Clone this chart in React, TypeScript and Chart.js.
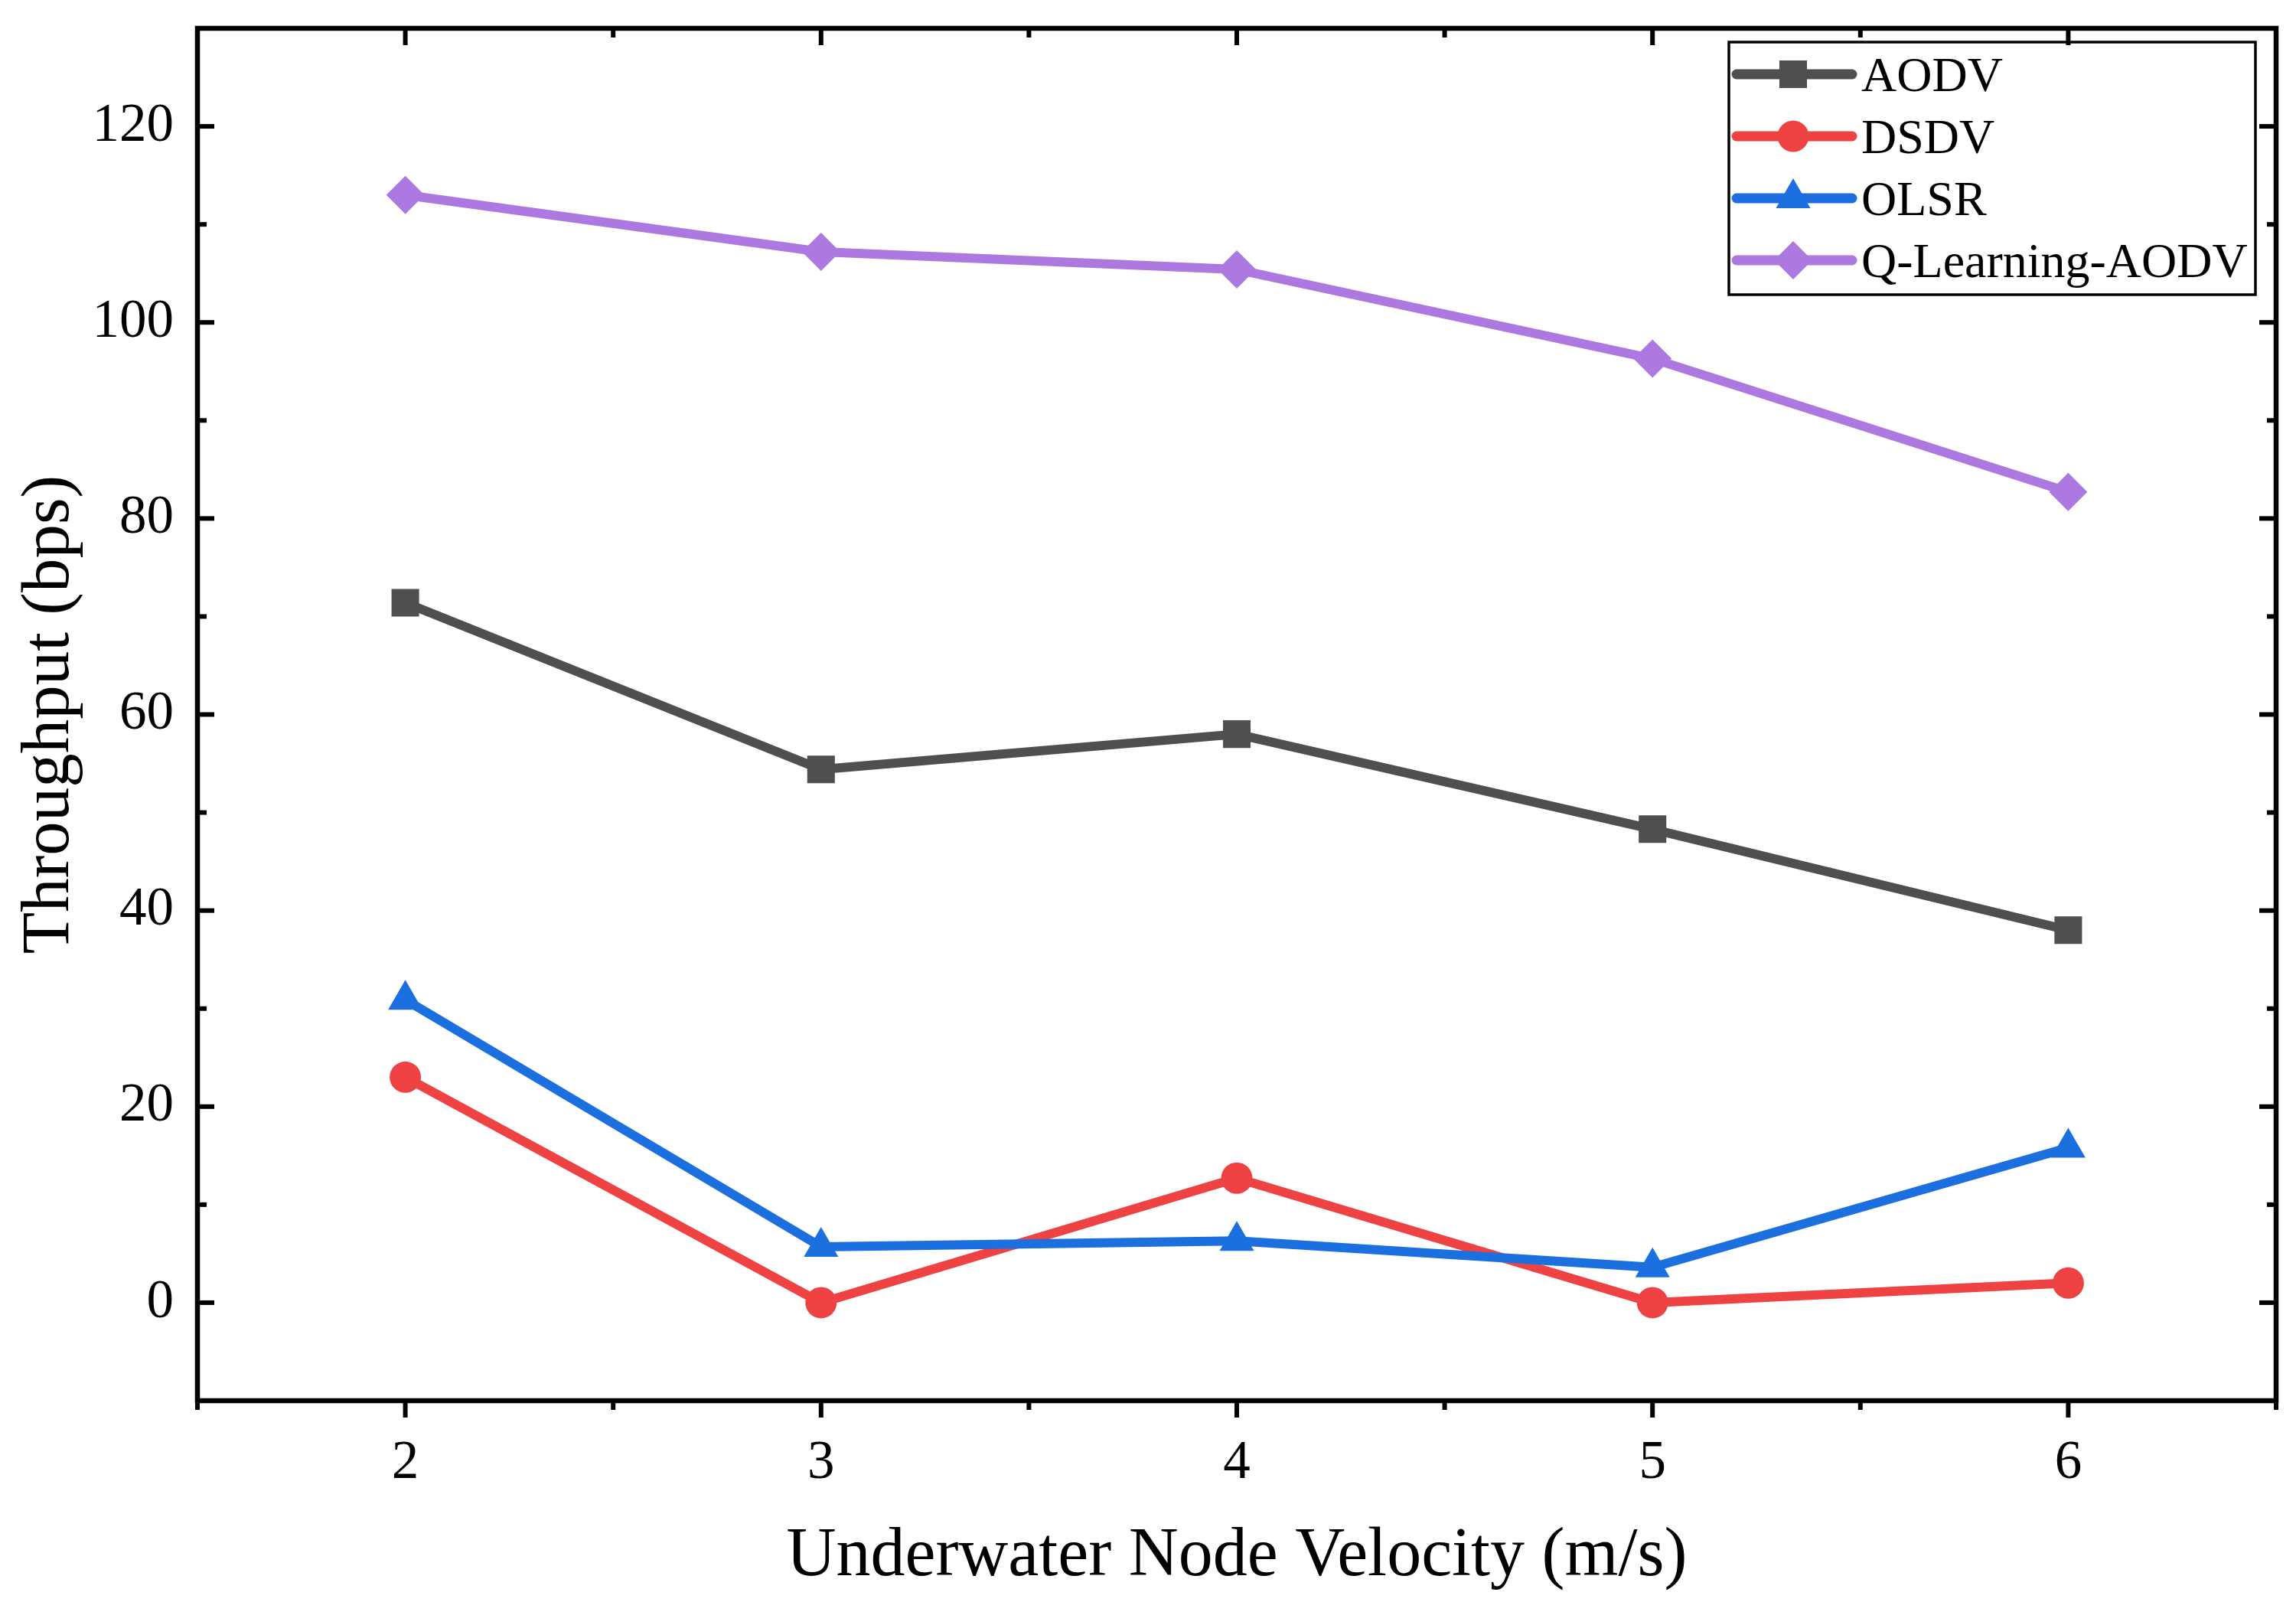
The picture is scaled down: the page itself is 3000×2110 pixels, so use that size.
import React, { useEffect, useRef } from 'react';
import { Chart, registerables } from 'chart.js';
import { drawPoint } from 'chart.js/helpers';

Chart.register(...registerables);

// velocities (m/s) on the x axis
const velocities = [2, 3, 4, 5, 6];

// throughput (bps) per protocol
const aodv = [71.4, 54.4, 58.0, 48.3, 38.0];
const dsdv = [23.0, 0.0, 12.7, 0.0, 2.0];
const olsr = [30.9, 5.7, 6.3, 3.6, 15.8];
const qLearningAodv = [113.0, 107.2, 105.4, 96.3, 82.7];

const seriesNames = ['AODV', 'DSDV', 'OLSR', 'Q-Learning-AODV'];

const xTicks = [2, 3, 4, 5, 6];
const xMinorTicks = [1.5, 2.5, 3.5, 4.5, 5.5, 6.5];
const yTicks = [0, 20, 40, 60, 80, 100, 120];
const yMinorTicks = [-10, 10, 30, 50, 70, 90, 110, 130];

const FONT = '"Liberation Serif", "Times New Roman", serif';

const styles = [
  { color: '#4f4f4f', pointStyle: 'rect', radius: 25.5 },
  { color: '#ef4242', pointStyle: 'circle', radius: 20.5 },
  { color: '#1c6fdf', pointStyle: 'triangle', radius: 26 },
  { color: '#ad78df', pointStyle: 'rectRot', radius: 25 },
];

const legendPlugin = {
  id: 'boxLegend',
  afterDraw(chart: any) {
    const { ctx, chartArea: a } = chart;
    const right = a.right - 27;
    const top = a.top + 18;
    const left = right - 688;
    const bottom = top + 330;
    ctx.save();
    ctx.strokeStyle = '#000';
    ctx.lineWidth = 3.5;
    ctx.strokeRect(left, top, right - left, bottom - top);
    chart.data.datasets.forEach((ds: any, i: number) => {
      const cy = top + 42 + i * 81;
      ctx.strokeStyle = ds.borderColor;
      ctx.lineWidth = 13;
      ctx.lineCap = 'round';
      ctx.beginPath();
      ctx.moveTo(left + 10, cy);
      ctx.lineTo(left + 161, cy);
      ctx.stroke();
      ctx.fillStyle = ds.pointBackgroundColor;
      drawPoint(ctx, { pointStyle: ds.pointStyle, radius: ds.pointRadius, rotation: 0, borderWidth: 0 }, left + 84, cy);
      ctx.fillStyle = '#000';
      ctx.font = `64px ${FONT}`;
      ctx.textAlign = 'left';
      ctx.textBaseline = 'alphabetic';
      ctx.fillText(ds.label, left + 173, cy + 22);
    });
    ctx.restore();
  },
};

const framePlugin = {
  id: 'frame',
  afterDraw(chart: any) {
    const { ctx, chartArea: a, scales } = chart;
    const xs = scales.x;
    const ys = scales.y;
    ctx.save();
    ctx.strokeStyle = '#000';
    ctx.lineWidth = 6.5;
    ctx.lineJoin = 'miter';
    ctx.strokeRect(a.left, a.top, a.right - a.left, a.bottom - a.top);
    ctx.lineWidth = 6;
    ctx.lineCap = 'butt';
    const seg = (x1: number, y1: number, x2: number, y2: number) => {
      ctx.beginPath();
      ctx.moveTo(x1, y1);
      ctx.lineTo(x2, y2);
      ctx.stroke();
    };
    const xMarks = (vals: number[], len: number) => {
      vals.forEach((v) => {
        const px = xs.getPixelForValue(v);
        seg(px, a.bottom, px, a.bottom + len);
        seg(px, a.top, px, a.top + len);
      });
    };
    const yMarks = (vals: number[], len: number) => {
      vals.forEach((v) => {
        const py = ys.getPixelForValue(v);
        seg(a.left, py, a.left + len, py);
        seg(a.right, py, a.right - len, py);
      });
    };
    xMarks(xTicks, 22);
    xMarks(xMinorTicks, 12);
    yMarks(yTicks, 22);
    yMarks(yMinorTicks, 12);
    ctx.restore();
  },
};

const App: React.FC = () => {
  const chartRef = useRef<HTMLCanvasElement>(null);
  const chartInstance = useRef<Chart | null>(null);

  useEffect(() => {
    document.body.style.margin = '0';
    document.body.style.overflow = 'hidden';
    if (!chartRef.current) return;
    if (chartInstance.current) chartInstance.current.destroy();

    const allSeries = [aodv, dsdv, olsr, qLearningAodv];

    chartInstance.current = new Chart(chartRef.current, {
      type: 'line',
      data: {
        datasets: allSeries.map((values, i) => ({
          label: seriesNames[i],
          data: values.map((v, j) => ({ x: velocities[j], y: v })),
          borderColor: styles[i].color,
          backgroundColor: styles[i].color,
          borderWidth: 12,
          borderJoinStyle: 'round',
          borderCapStyle: 'round',
          pointStyle: styles[i].pointStyle,
          pointRadius: styles[i].radius,
          pointBackgroundColor: styles[i].color,
          pointBorderWidth: 0,
          tension: 0,
          order: 4 - i,
        })) as any,
      },
      plugins: [legendPlugin, framePlugin],
      options: {
        responsive: false,
        animation: false,
        devicePixelRatio: 1,
        layout: { padding: { top: 37, right: 26, left: 0, bottom: 0 } },
        plugins: {
          legend: { display: false },
          tooltip: { enabled: false },
        },
        scales: {
          x: {
            type: 'linear',
            min: 1.5,
            max: 6.5,
            afterBuildTicks: (s: any) => {
              s.ticks = xTicks.map((value) => ({ value }));
            },
            afterFit: (s: any) => {
              s.height = 280;
              s.paddingLeft = 0;
              s.paddingRight = 0;
            },
            grid: { display: false, drawTicks: false },
            border: { display: false },
            ticks: {
              color: '#000',
              padding: 40,
              maxRotation: 0,
              font: { family: FONT, size: 71 },
            },
            title: {
              display: true,
              text: 'Underwater Node Velocity (m/s)',
              color: '#000',
              font: { family: FONT, size: 90 },
              padding: { top: 0, bottom: 22 },
            },
          },
          y: {
            type: 'linear',
            min: -10,
            max: 130,
            afterBuildTicks: (s: any) => {
              s.ticks = yTicks.map((value) => ({ value }));
            },
            afterFit: (s: any) => {
              s.width = 258;
              s.paddingTop = 0;
              s.paddingBottom = 0;
            },
            grid: { display: false, drawTicks: false },
            border: { display: false },
            ticks: {
              color: '#000',
              padding: 31,
              font: { family: FONT, size: 71 },
            },
            title: {
              display: true,
              text: 'Throughput (bps)',
              color: '#000',
              font: { family: FONT, size: 89 },
              padding: { top: 12, bottom: 0 },
            },
          },
        },
      } as any,
    });

    return () => {
      if (chartInstance.current) {
        chartInstance.current.destroy();
        chartInstance.current = null;
      }
    };
  }, []);

  return (
    <div style={{ width: 3000, height: 2110, background: '#fff' }}>
      <canvas ref={chartRef} width={3000} height={2110} style={{ display: 'block' }}></canvas>
    </div>
  );
};

export default App;
